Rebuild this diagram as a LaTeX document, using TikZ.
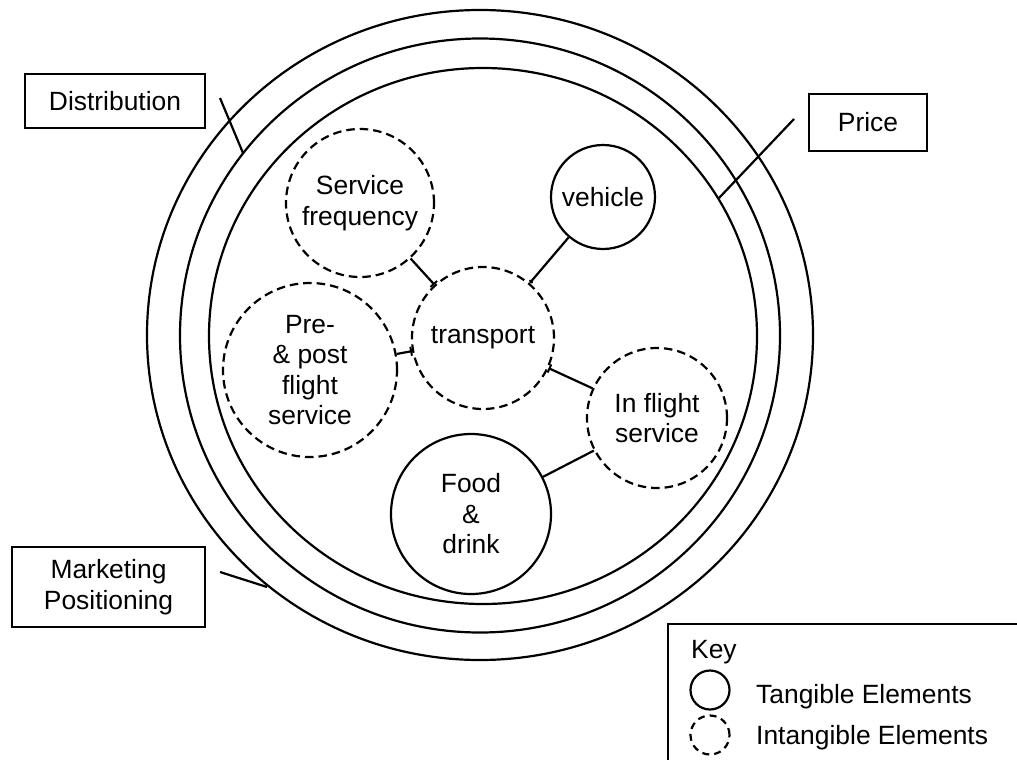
\documentclass[tikz,border=0pt]{standalone}
\usepackage{fontspec}
\setmainfont{Liberation Sans}
\usetikzlibrary{arrows.meta}
\begin{document}
\begin{tikzpicture}[x=1pt,y=-1pt,
  every node/.style={font=\fontsize{26.4}{30.5}\selectfont, align=center, inner sep=0pt},
  ring/.style={line width=2.2pt},
  solidel/.style={circle, draw, line width=2.2pt},
  dashel/.style={circle, draw, line width=2.2pt, dash pattern=on 8.5pt off 5pt},
  link/.style={line width=2.2pt},
  labelbox/.style={draw, line width=2pt, inner sep=0pt},
  leader/.style={line width=2.2pt}]
\useasboundingbox (0,0) rectangle (1017,760);

% concentric rings of the augmented product
\draw[ring] (480,335) ellipse [x radius=333, y radius=325];
\draw[ring] (480,335.5) ellipse [x radius=300, y radius=297];
\draw[ring] (483,336) ellipse [x radius=274, y radius=268];

% core and surrounding elements
\node[dashel, minimum size=148pt] (sf) at (360,203) {Service\\frequency};
\node[dashel, minimum size=174pt] (pp) at (310,370) {Pre-\\\& post\\flight\\service};
\node[dashel, minimum size=142pt] (tr) at (483,338) {transport};
\node[solidel, minimum size=104pt] (ve) at (603,197) {vehicle};
\node[dashel, minimum size=140pt] (if) at (657,418) {In flight\\service};
\node[solidel, minimum size=160pt] (fd) at (471,514) {Food\\\&\\drink};

% links between elements
\draw[link, -{Bar[width=9pt,line width=2pt]}] (sf) -- (tr);
\draw[link, -{Bar[width=9pt,line width=2pt]}] (pp) -- (tr);
\draw[link, -{Circle[length=4pt]}] (ve) -- (tr);
\draw[link, {Bar[width=9pt,line width=2pt]}-] (tr) -- (if);
\draw[link] (fd) -- (if);

% ring labels with leader lines
\node[labelbox, minimum width=180pt, minimum height=54pt] (dist) at (115,101) {Distribution};
\node[labelbox, minimum width=118pt, minimum height=57pt] (price) at (868,122.5) {Price};
\node[labelbox, minimum width=193pt, minimum height=80pt] (mkt) at (108.5,587) {Marketing\\Positioning};

\coordinate (distA) at (220,98);
\coordinate (distB) at (243,153);
\coordinate (priceA) at (794,119);
\coordinate (priceB) at (719,198);
\coordinate (mktA) at (220,572);
\coordinate (mktB) at (267,587);
\draw[leader] (distA) -- (distB);
\draw[leader] (priceA) -- (priceB);
\draw[leader] (mktA) -- (mktB);

% key
\coordinate (keyTR) at (1017,624);
\coordinate (keyTL) at (668,624);
\coordinate (keyBL) at (668,760);
\draw[line width=2.2pt] (keyTR) -- (keyTL) -- (keyBL);
\node[anchor=west] (keyt) at (691,652) {Key};
\node[solidel, minimum size=39pt] (ks) at (710,690) {};
\node[dashel, minimum size=39pt, dash pattern=on 7pt off 5pt] (kd) at (710,735) {};
\node[anchor=west] (kst) at (756,697) {Tangible Elements};
\node[anchor=west] (kdt) at (756,738) {Intangible Elements};
\end{tikzpicture}
\end{document}
